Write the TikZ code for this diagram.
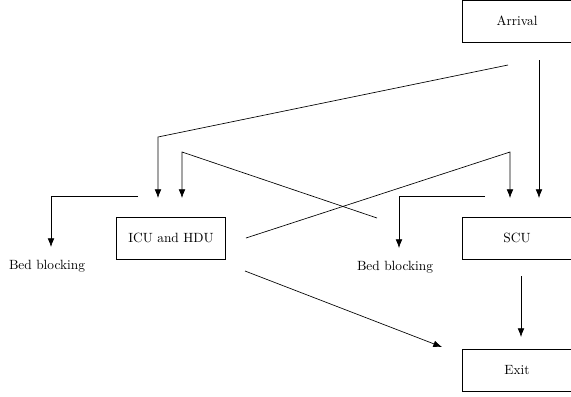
\documentclass[tikz,border=0pt]{standalone}
\usetikzlibrary{positioning}
\usetikzlibrary{arrows.meta}

\begin{document}
\begin{tikzpicture}[x=0.02627cm,y=-0.02627cm,line width=0.5pt,
box/.style={draw,minimum width=2.86cm,minimum height=1.1cm},
flow/.style={-{Latex[length=6.5pt,width=5pt]}}]
\useasboundingbox (0,0) rectangle (571,396);
\node[box] (arrival) at (517,21) {Arrival};
\node[box] (icu) at (171,238) {ICU and HDU};
\node[box] (scu) at (517,238) {SCU};
\node[box] (exit) at (517,370.5) {Exit};
\node (bed left) at (47,266) {Bed blocking};
\node (bed right) at (395,267) {Bed blocking};
\coordinate (arrival down) at (539,60);
\coordinate (arrival left) at (508,65);
\coordinate (scu top a) at (539,198);
\coordinate (scu top b) at (510,198);
\coordinate (icu top a) at (158,198);
\coordinate (icu top b) at (182,198);
\coordinate (icu right) at (246,238);
\coordinate (icu low) at (245,271);
\coordinate (cross end) at (377,218);
\coordinate (icu block) at (138,196);
\coordinate (scu block) at (485,196);
\coordinate (bed left top) at (51,247);
\coordinate (bed right top) at (399,248);
\coordinate (scu low) at (521,276);
\coordinate (exit top) at (521,337);
\coordinate (exit left) at (442,347);
\draw [flow] (arrival down) -- (scu top a);
\draw [flow] (arrival left) -- (158,137) -- (icu top a);
\draw [flow] (icu right) -- (510,152) -- (scu top b);
\draw [flow] (cross end) -- (182,152) -- (icu top b);
\draw [flow] (icu block) -| (bed left top);
\draw [flow] (scu block) -| (bed right top);
\draw [flow] (scu low) -- (exit top);
\draw [flow] (icu low) -- (exit left);
\end{tikzpicture}
\end{document}
